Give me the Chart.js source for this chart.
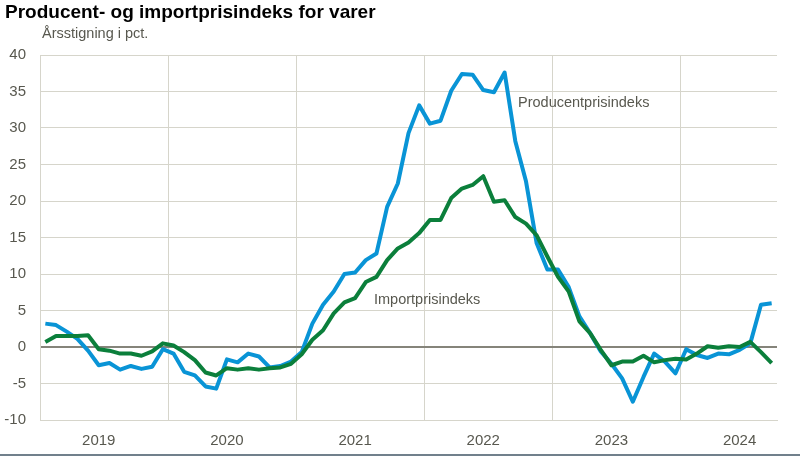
<!DOCTYPE html>
<html lang="no">
<head>
<meta charset="UTF-8">
<title>Producent- og importprisindeks for varer</title>
<style>
  body { margin: 0; background: #fff; }
  #wrap { width: 800px; height: 458px; }
</style>
</head>
<body>
<div id="wrap"><canvas id="chart" width="800" height="458"></canvas></div>
<script src="https://cdn.jsdelivr.net/npm/chart.js"></script>
<script>
// years on the axis, monthly observations jan 2019 - sep 2024
const years = [2019, 2020, 2021, 2022, 2023, 2024];
const monthsLastYear = 9;

const titleText = 'Producent- og importprisindeks for varer';
const unitText = 'Årsstigning i pct.';

// Producentprisindeks, årsstigning i pct.
const producent = [
  3.2, 3.0, 2.1, 1.1, -0.5, -2.5, -2.2, -3.1, -2.6, -3.0, -2.7, -0.3,
  -0.9, -3.4, -3.9, -5.4, -5.7, -1.7, -2.1, -0.9, -1.3, -2.8, -2.6, -2.0,
  -0.7, 3.2, 5.8, 7.6, 10.0, 10.2, 11.9, 12.8, 19.2, 22.4, 29.3, 33.1,
  30.6, 31.0, 35.1, 37.4, 37.3, 35.2, 34.9, 37.6, 28.2, 22.7, 14.2, 10.6,
  10.6, 8.2, 4.2, 1.9, -0.6, -2.3, -4.3, -7.5, -4.1, -0.9, -2.0, -3.6,
  -0.3, -1.1, -1.5, -0.9, -1.0, -0.4, 0.5, 5.8, 6.0
];

// Importprisindeks, årsstigning i pct.
const importpris = [
  0.7, 1.5, 1.5, 1.5, 1.6, -0.3, -0.5, -0.9, -0.9, -1.2, -0.6, 0.5,
  0.2, -0.7, -1.8, -3.5, -3.9, -2.9, -3.1, -2.9, -3.1, -2.9, -2.8, -2.3,
  -1.0, 1.0, 2.3, 4.6, 6.1, 6.7, 8.9, 9.6, 11.9, 13.5, 14.3, 15.6,
  17.4, 17.4, 20.4, 21.7, 22.2, 23.4, 19.9, 20.1, 17.8, 16.9, 15.3, 12.4,
  9.6, 7.6, 3.5, 1.9, -0.4, -2.5, -2.0, -2.0, -1.2, -2.1, -1.8, -1.6,
  -1.7, -0.9, 0.1, -0.1, 0.1, 0.0, 0.7, -0.7, -2.2
];

// y axis
const yMin = -10, yMax = 40, yStep = 5;

// month labels, e.g. 2019M01
const labels = [];
years.forEach((yr, k) => {
  const n = k === years.length - 1 ? monthsLastYear : 12;
  for (let m = 1; m <= n; m++) labels.push(yr + 'M' + String(m).padStart(2, '0'));
});

const FONT = '"Liberation Sans", Arial, sans-serif';
const TEXT = '#58584f';

// title, unit and series names + bottom rule
const textPlugin = {
  id: 'texts',
  afterDraw(chart) {
    const ctx = chart.ctx;
    ctx.save();
    ctx.textBaseline = 'alphabetic';
    ctx.textAlign = 'left';
    ctx.fillStyle = '#000';
    ctx.font = 'bold 19px ' + FONT;
    ctx.fillText(titleText, 5, 18);

    ctx.fillStyle = TEXT;
    ctx.font = '14.5px ' + FONT;
    ctx.fillText(unitText, 42, 38);
    ctx.fillText('Producentprisindeks', 518, 107);
    ctx.fillText('Importprisindeks', 374, 304);

    ctx.strokeStyle = '#71808c';
    ctx.lineWidth = 2;
    ctx.beginPath();
    ctx.moveTo(0, 455);
    ctx.lineTo(800, 455);
    ctx.stroke();
    ctx.restore();
  }
};

new Chart(document.getElementById('chart').getContext('2d'), {
  type: 'line',
  data: {
    labels: labels,
    datasets: [
      {
        label: 'Producentprisindeks',
        data: producent,
        borderColor: '#0994d6',
        borderWidth: 4,
        pointRadius: 0,
        tension: 0,
        borderJoinStyle: 'round',
        order: 1
      },
      {
        label: 'Importprisindeks',
        data: importpris,
        borderColor: '#0b7f3b',
        borderWidth: 4,
        pointRadius: 0,
        tension: 0,
        borderJoinStyle: 'round',
        order: 0
      }
    ]
  },
  options: {
    responsive: false,
    animation: false,
    devicePixelRatio: 1,
    layout: { padding: { top: 55, right: 23, left: 0, bottom: 0 } },
    plugins: {
      legend: { display: false },
      tooltip: { enabled: false }
    },
    scales: {
      x: {
        offset: true,
        afterFit: s => { s.height = 38; },
        grid: {
          offset: true,
          drawTicks: false,
          color: c => (c.index % 12 === 0 ? '#d6d5cb' : 'rgba(0,0,0,0)'),
          lineWidth: 1
        },
        border: { display: true, color: '#d6d5cb' },
        ticks: {
          autoSkip: false,
          maxRotation: 0,
          padding: 12,
          color: TEXT,
          font: { family: FONT, size: 15 },
          callback: (v, i) => (i % 12 === 5 ? labels[i].slice(0, 4) : '')
        }
      },
      y: {
        min: yMin,
        max: yMax,
        afterFit: s => { s.width = 40; },
        grid: {
          drawTicks: false,
          color: c => (c.tick && c.tick.value === 0 ? '#85847a' : '#d6d5cb'),
          lineWidth: c => (c.tick && c.tick.value === 0 ? 2 : 1)
        },
        border: { display: true, color: '#d6d5cb' },
        ticks: {
          stepSize: yStep,
          padding: 14,
          color: TEXT,
          font: { family: FONT, size: 15 }
        }
      }
    }
  },
  plugins: [textPlugin]
});
</script>
</body>
</html>
